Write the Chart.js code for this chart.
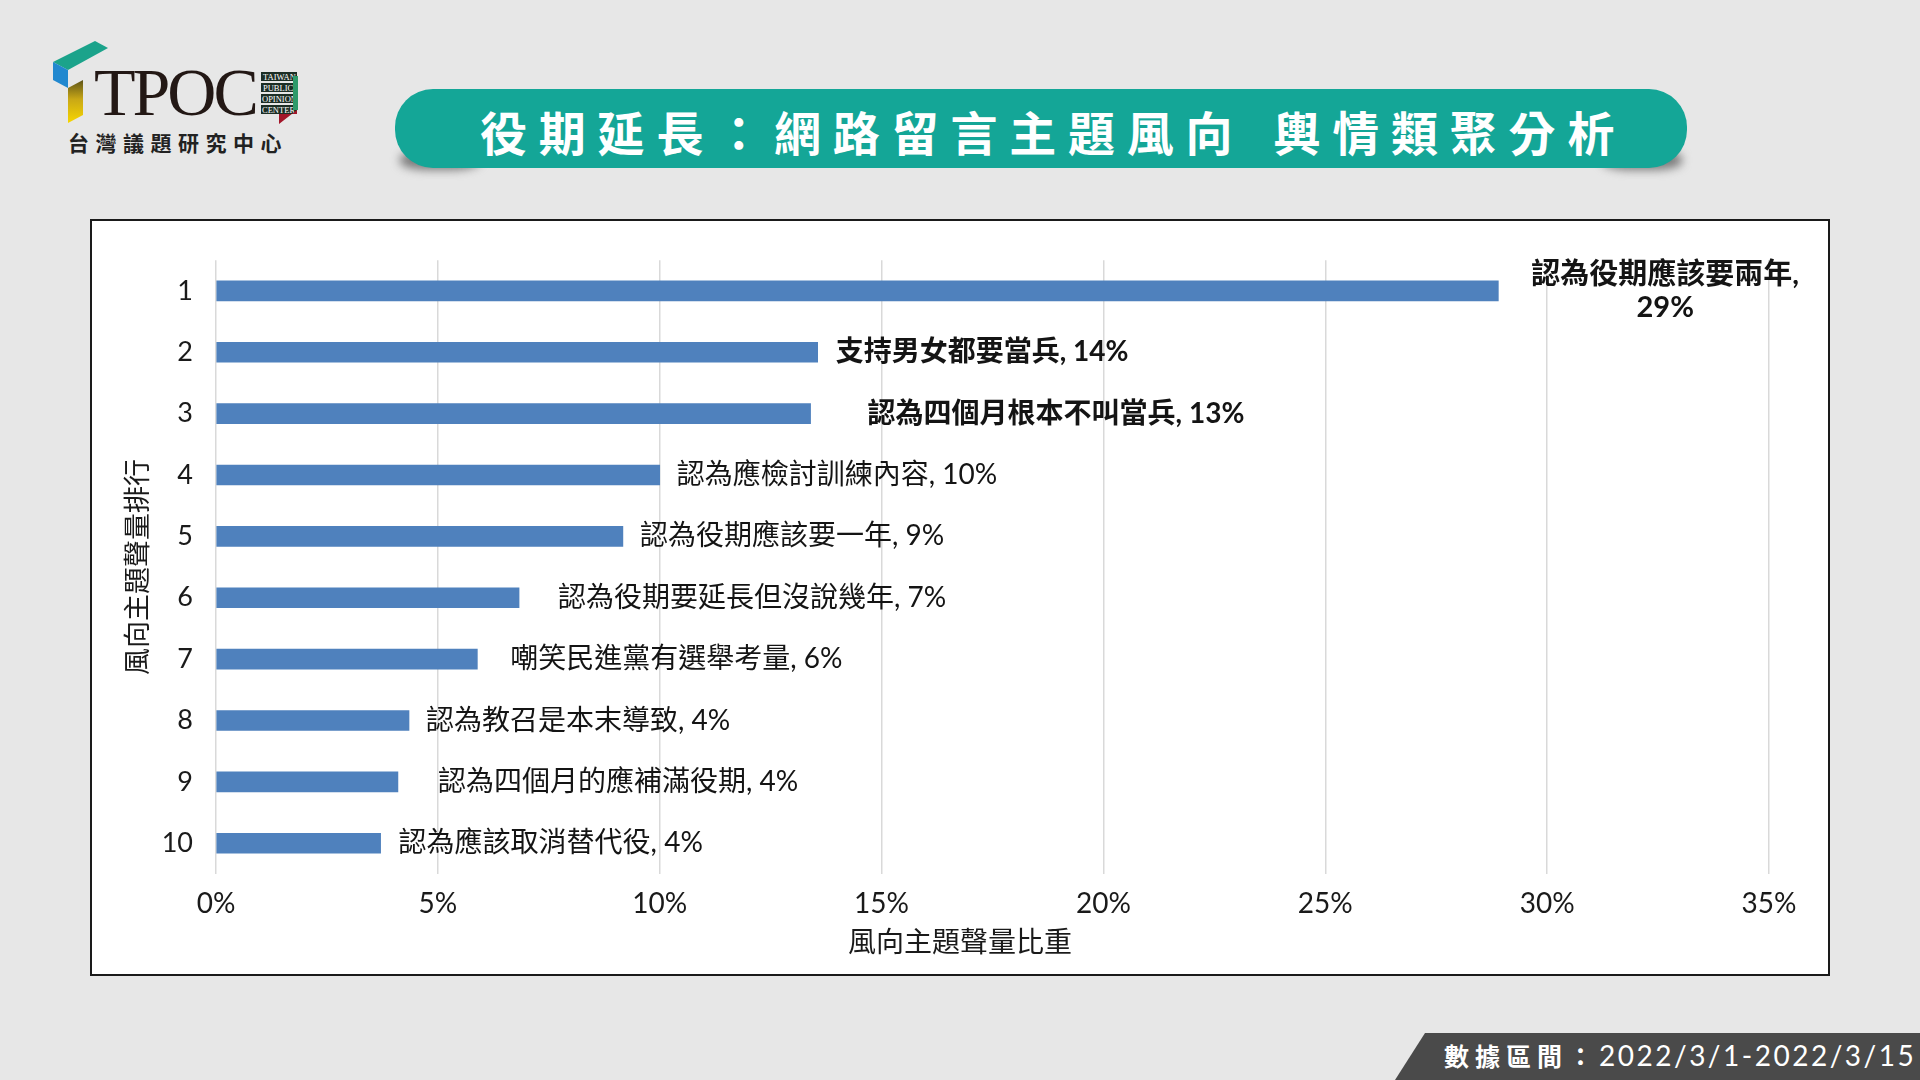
<!DOCTYPE html>
<html lang="zh-Hant">
<head>
<meta charset="utf-8">
<script src="https://cdn.jsdelivr.net/npm/chart.js@4.4.1/dist/chart.umd.min.js"></script>
<style>
html,body{margin:0;padding:0;}
body{width:1920px;height:1080px;background:#e7e7e7;position:relative;overflow:hidden;font-family:'Noto Sans CJK TC',sans-serif;}
#logo{position:absolute;left:0;top:0;}
.pill{position:absolute;left:395px;top:89px;width:1292px;height:79px;border-radius:38px;background:#14a697;z-index:2;}
.curl{position:absolute;top:150px;width:80px;height:20px;background:#7a7a7a;filter:blur(5px);border-radius:40%;z-index:1;}
.title{position:absolute;left:480px;top:107px;color:#fff;font-weight:700;font-size:47px;letter-spacing:11.8px;white-space:nowrap;line-height:1;z-index:3;}
.title .gap{display:inline-block;width:29px;}
#box{position:absolute;left:90px;top:219px;width:1736px;height:753px;border:2px solid #1a1a1a;background:#fff;}
#wrap{position:relative;width:1736px;height:753px;}
.footer{position:absolute;left:1380px;top:1033px;width:540px;height:47px;background:#4a4a4a;clip-path:polygon(45px 0,100% 0,100% 100%,15px 100%);}
.ftext{position:absolute;left:1444px;top:1041px;color:#fff;white-space:nowrap;line-height:1;}
.ftext .cj{font-family:'Noto Sans CJK TC';font-weight:700;font-size:25px;letter-spacing:6px;}
.ftext .dg{font-family:Lato,'Noto Sans CJK TC';font-weight:400;font-size:28px;letter-spacing:2.5px;}
</style>
</head>
<body>
<svg id="logo" width="320" height="170">
  <defs>
    <linearGradient id="yg" x1="0" y1="0" x2="0" y2="1">
      <stop offset="0" stop-color="#5e5418"/>
      <stop offset="0.45" stop-color="#c9a816"/>
      <stop offset="1" stop-color="#f7d600"/>
    </linearGradient>
  </defs>
  <polygon points="53,62 95,41 108,48 68,70" fill="#1ba38b"/>
  <polygon points="53,62 68,70 68,88 53,80" fill="#2188cf"/>
  <polygon points="68,88 83,80 83,115 68,123" fill="url(#yg)"/>
  <text x="94" y="115" font-family="Liberation Serif" font-size="68" fill="#231815" letter-spacing="-3">TPOC</text>
  <g font-family="Liberation Serif" font-size="8.5" fill="#fff">
    <rect x="261" y="72" width="36" height="9" fill="#1c2e25"/>
    <text x="263" y="79.5">TAIWAN</text>
    <rect x="261" y="83" width="34" height="9" fill="#1c2e25"/>
    <text x="263" y="90.5">PUBLIC</text>
    <rect x="261" y="94" width="37" height="9" fill="#1c2e25"/>
    <text x="262" y="101.5">OPINION</text>
    <rect x="261" y="105" width="36" height="9" fill="#1c2e25"/>
    <text x="262" y="112.5">CENTER</text>
  </g>
  <rect x="293" y="76" width="5" height="34" fill="#2e9a6a"/>
  <polygon points="279,114 297,114 297,110 279,124" fill="#a3162a"/>
  <text x="68" y="151" font-family="Noto Sans CJK TC" font-weight="700" font-size="21" fill="#222" letter-spacing="6.5">台灣議題研究中心</text>
</svg>

<div class="curl" style="left:400px;"></div>
<div class="curl" style="left:1602px;"></div>
<div class="pill"></div>
<div class="title">役期延長：網路留言主題風向<span class="gap"></span>輿情類聚分析</div>

<div id="box"><div id="wrap"><canvas id="c"></canvas></div></div>

<div class="footer"></div>
<div class="ftext"><span class="cj">數據區間：</span><span class="dg">2022/3/1-2022/3/15</span></div>

<script>
// ---- data ----
const categories = ['1','2','3','4','5','6','7','8','9','10'];
const topics = ['認為役期應該要兩年','支持男女都要當兵','認為四個月根本不叫當兵','認為應檢討訓練內容','認為役期應該要一年','認為役期要延長但沒說幾年','嘲笑民進黨有選舉考量','認為教召是本末導致','認為四個月的應補滿役期','認為應該取消替代役'];
const shares = [28.9, 13.56, 13.4, 10.0, 9.17, 6.83, 5.89, 4.35, 4.1, 3.71];
const xTickValues = [0, 5, 10, 15, 20, 25, 30, 35];
const xAxisTitle = '風向主題聲量比重';
const yAxisTitle = '風向主題聲量排行';

// ---- label styling (offset after bar end, px; font sizes) ----
const labelGap = [33, 18, 57, 17, 17, 39, 33, 17, 40, 18];
const labelSize = [29, 28, 28, 28, 28, 28, 28, 28, 28, 28];
const boldRows = 3;

const FONT = "Lato, 'Noto Sans CJK TC', sans-serif";
Chart.defaults.font.family = FONT;
Chart.defaults.color = '#1a1a1a';

const labelPlugin = {
  id: 'valueLabels',
  afterDatasetsDraw(chart) {
    const ctx = chart.ctx;
    const meta = chart.getDatasetMeta(0);
    ctx.save();
    ctx.fillStyle = '#141414';
    ctx.textBaseline = 'middle';
    meta.data.forEach((bar, i) => {
      const bold = i < boldRows;
      ctx.font = (bold ? '700 ' : '400 ') + labelSize[i] + 'px ' + FONT;
      const pct = Math.round(shares[i]) + '%';
      const x0 = bar.x + labelGap[i];
      if (i === 0) {
        const l1 = topics[i] + ',';
        const w = ctx.measureText(l1).width;
        ctx.textAlign = 'left';
        ctx.fillText(l1, x0, bar.y - 16.5);
        ctx.textAlign = 'center';
        ctx.fillText(pct, x0 + w / 2, bar.y + 16.5);
      } else {
        ctx.textAlign = 'left';
        ctx.fillText(topics[i] + ', ' + pct, x0, bar.y);
      }
    });
    ctx.restore();
  }
};

new Chart(document.getElementById('c'), {
  type: 'bar',
  data: {
    labels: categories,
    datasets: [{
      data: shares,
      backgroundColor: '#4f81bd',
      borderWidth: 0,
      barThickness: 20,
      xAxisID: 'x',
      yAxisID: 'y'
    }]
  },
  options: {
    indexAxis: 'y',
    responsive: true,
    maintainAspectRatio: false,
    animation: false,
    devicePixelRatio: 1,
    layout: { padding: { left: 28.5, right: 28.5, top: 33.5, bottom: 0 } },
    scales: {
      x: {
        type: 'linear',
        position: 'bottom',
        min: xTickValues[0],
        max: xTickValues[xTickValues.length - 1],
        afterBuildTicks: s => { s.ticks = xTickValues.map(v => ({ value: v })); },
        ticks: { callback: v => v + '%', font: { size: 28 }, color: '#1a1a1a', padding: 13 },
        grid: { color: '#d9d9d9', lineWidth: 1.5, drawTicks: false },
        border: { display: false },
        afterFit: s => { s.height = 51; }
      },
      y: {
        type: 'category',
        position: 'left',
        ticks: { font: { size: 27 }, color: '#1a1a1a', padding: 23 },
        grid: { display: false, drawTicks: false },
        border: { display: false },
        title: { display: true, text: yAxisTitle, font: { size: 27, family: "'Noto Sans CJK TC'" }, color: '#1a1a1a', padding: { top: 0, bottom: 0 } },
        afterFit: s => { s.width = 95.5; }
      },
      yR: {
        type: 'category',
        position: 'right',
        ticks: { display: false },
        grid: { display: false, drawTicks: false },
        border: { display: false },
        afterFit: s => { s.width = 30.5; }
      }
    },
    plugins: {
      legend: { display: false },
      tooltip: { enabled: false },
      title: {
        display: true,
        position: 'bottom',
        text: xAxisTitle,
        color: '#1a1a1a',
        font: { size: 28, weight: 'normal', family: "'Noto Sans CJK TC'" },
        padding: { top: 0, bottom: 15.5 }
      }
    }
  },
  plugins: [labelPlugin]
});
</script>
</body>
</html>
